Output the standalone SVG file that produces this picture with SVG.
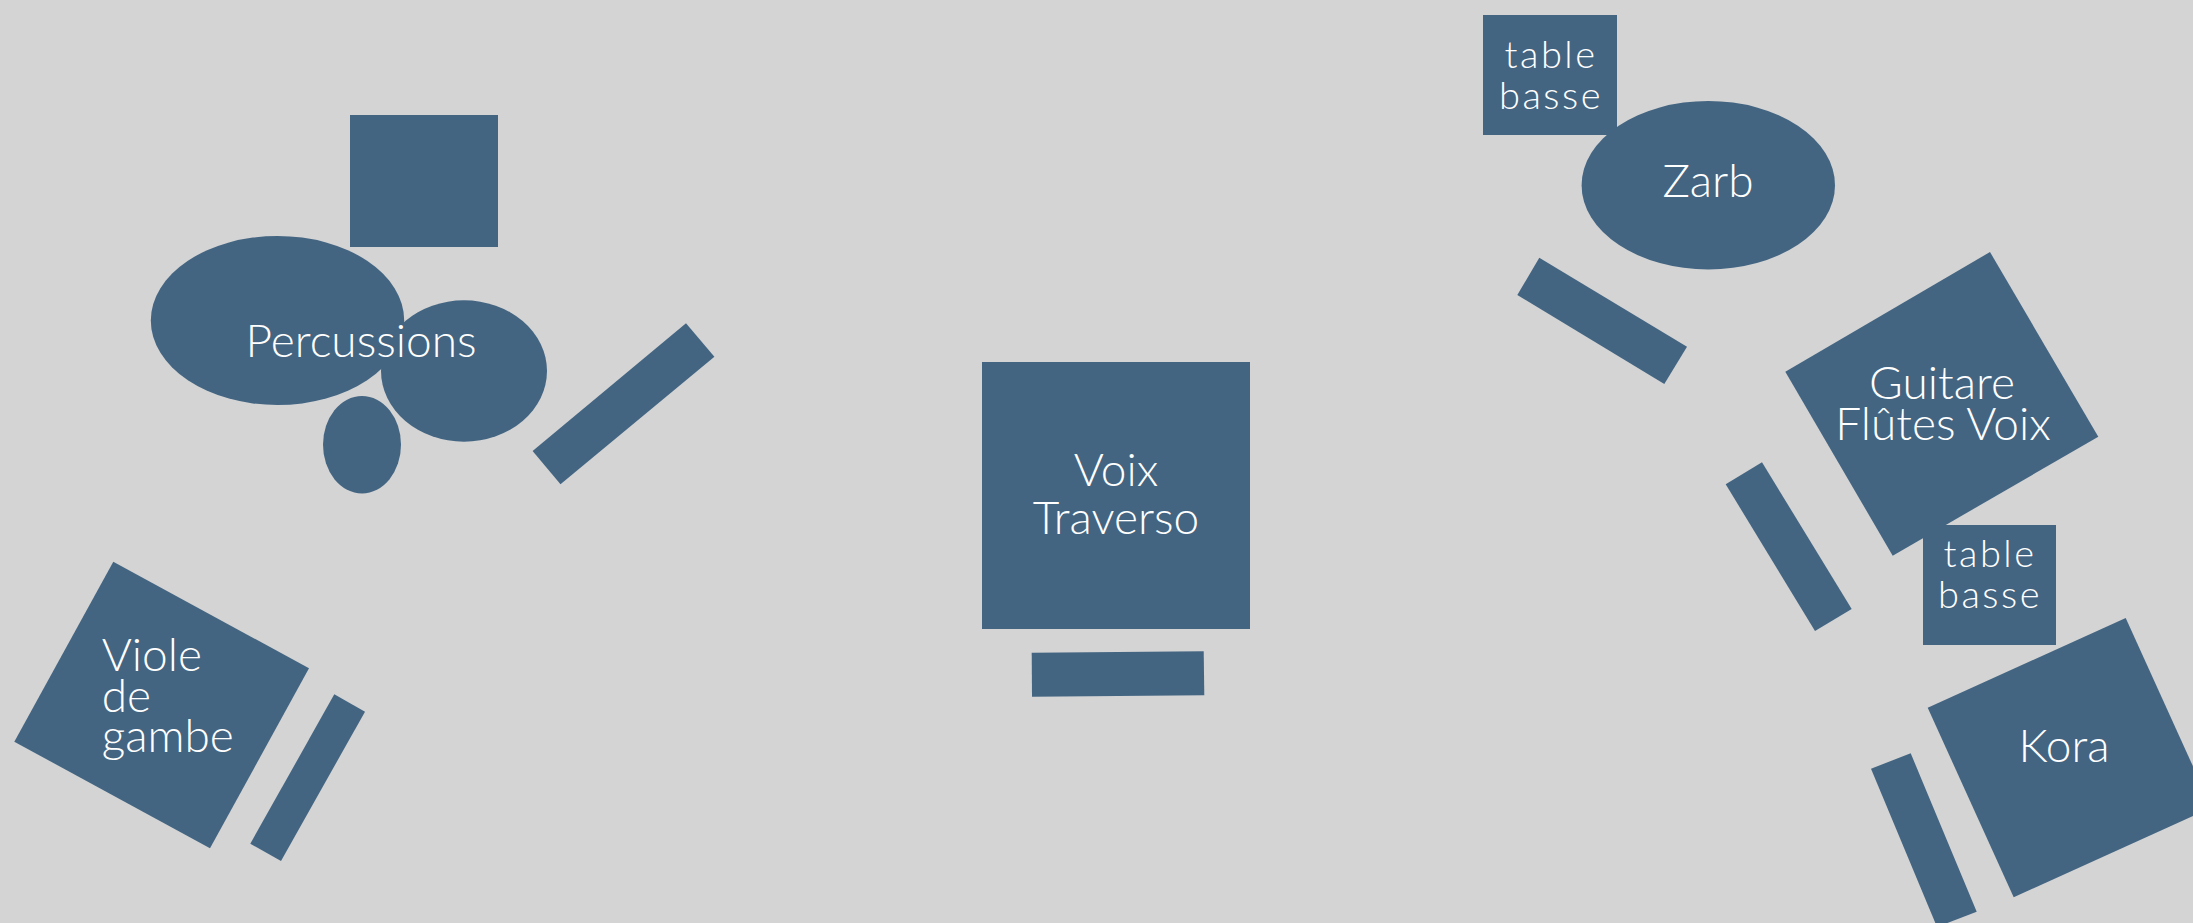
<svg xmlns="http://www.w3.org/2000/svg" width="2193" height="923" viewBox="0 0 2193 923">
<style>
.s{fill:#436582;}
.t{fill:#ffffff;font-family:Lato,"Open Sans","Liberation Sans",sans-serif;font-weight:300;}
.l{font-size:46px;}
.m{font-size:38px;letter-spacing:2.5px;}
.c{text-anchor:middle;}
</style>
<rect width="2193" height="923" fill="#d4d4d4"/>
<g id="percussions">
<rect class="s" x="350" y="115" width="148" height="132"/>
<ellipse class="s" cx="277.5" cy="320.5" rx="126.7" ry="84.5"/>
<ellipse class="s" cx="464" cy="371" rx="83" ry="70.7"/>
<ellipse class="s" cx="362" cy="444.7" rx="39" ry="48.7"/>
<text class="t l c" x="361" y="357">Percussions</text>
</g>
<g id="percussions-bar">
<polygon class="s" points="532.6,451 686,323.3 714.4,356.7 560.5,484.3"/>
</g>
<g id="viole">
<polygon class="s" points="113.3,561.7 309,668.3 210,848.3 14.3,741.7"/>
<text class="t l" x="101.7" y="671">Viole</text>
<text class="t l" x="101.7" y="712">de</text>
<text class="t l" x="101.7" y="752">gambe</text>
</g>
<g id="viole-bar">
<polygon class="s" points="334.3,694.3 365,711.7 281,861 250.3,843.7"/>
</g>
<g id="voix">
<rect class="s" x="982" y="362" width="268" height="267"/>
<text class="t l c" x="1116" y="486">Voix</text>
<text class="t l c" x="1116" y="534">Traverso</text>
</g>
<g id="voix-bar">
<polygon class="s" points="1031.7,652.7 1203.7,651.3 1204.3,695.3 1032,696.7"/>
</g>
<g id="table-basse-1">
<rect class="s" x="1483" y="15" width="134" height="120"/>
<text class="t m c" x="1551" y="68">table</text>
<text class="t m c" x="1551" y="109">basse</text>
</g>
<g id="zarb">
<ellipse class="s" cx="1708.3" cy="185.2" rx="126.7" ry="84.2"/>
<text class="t l c" x="1708" y="197">Zarb</text>
</g>
<g id="zarb-bar">
<polygon class="s" points="1539.3,257.7 1687,346.7 1664.3,384 1517.3,295"/>
</g>
<g id="guitare">
<polygon class="s" points="1990,252 2098.3,436.7 1892.7,555.7 1785.3,371.7"/>
<text class="t l c" x="1942" y="399">Guitare</text>
<text class="t l c" x="1943" y="440">Flûtes Voix</text>
</g>
<g id="guitare-bar">
<polygon class="s" points="1762,462.3 1851.7,609 1815,631 1725.7,484.3"/>
</g>
<g id="table-basse-2">
<rect class="s" x="1923" y="525" width="133" height="120"/>
<text class="t m c" x="1990" y="567">table</text>
<text class="t m c" x="1990" y="608">basse</text>
</g>
<g id="kora">
<polygon class="s" points="1927.7,707.7 2125.7,618 2211.7,807.6 2013.7,897.3"/>
<text class="t l c" x="2064" y="762">Kora</text>
</g>
<g id="kora-bar">
<polygon class="s" points="1871,768.7 1910.7,753.3 1976.7,911.7 1937,927"/>
</g>
</svg>
